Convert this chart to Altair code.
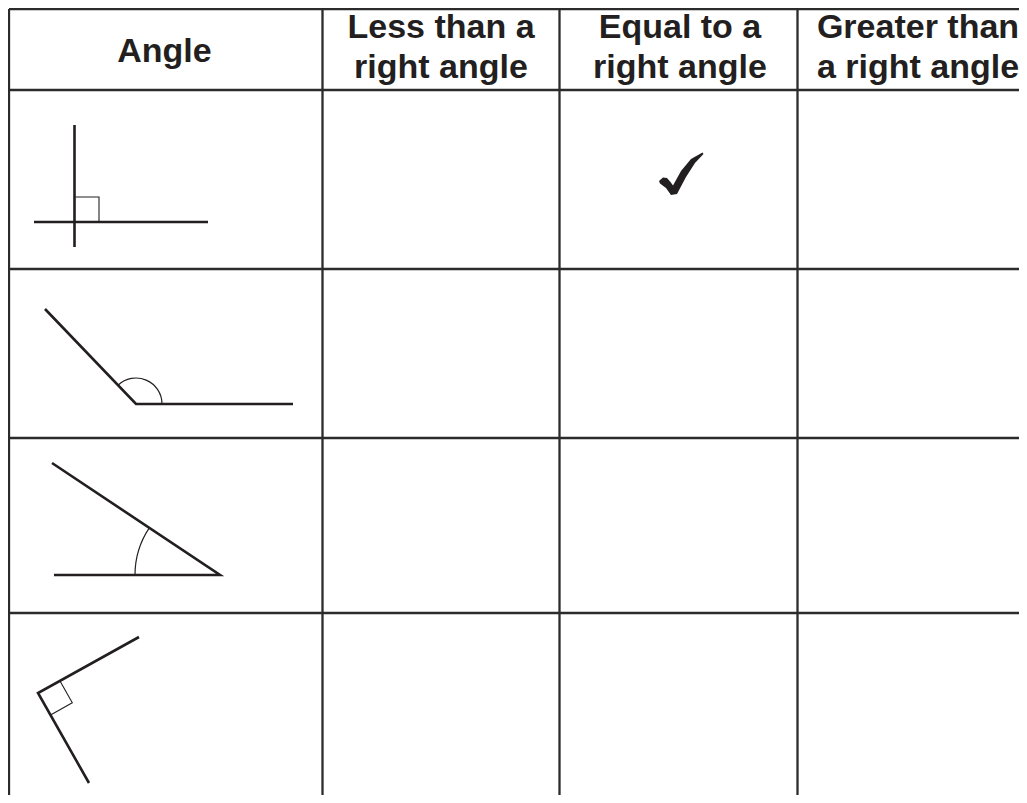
import altair as alt
import pandas as pd

# ---- table grid (page pixel coordinates) ----
ROW_LINES_Y = [9, 90, 269, 438, 613]
COL_LINES_X = [9, 322.5, 559.5, 797.5]
GRID_LEFT, GRID_RIGHT = 9, 1019
GRID_TOP, GRID_BOTTOM = 9, 795

# ---- header ----
HEADERS = ["Angle", "Less than a\nright angle", "Equal to a\nright angle", "Greater than\na right angle"]
HEADER_X = [164.5, 441, 680, 918]
HEADER_Y = [62, 38, 38, 38]

# ---- angle drawings (polylines) ----
ANGLE_SEG = ["r1v", "r1v", "r1h", "r1h", "r2", "r2", "r2", "r3", "r3", "r3", "r4", "r4", "r4"]
ANGLE_ORD = [0, 1, 0, 1, 0, 1, 2, 0, 1, 2, 0, 1, 2]
ANGLE_X = [74.5, 74.5, 34, 208, 45, 136, 293, 52, 220, 54, 139, 38, 89]
ANGLE_Y = [125, 247, 222, 222, 309, 404, 404, 463, 575, 575, 637, 693, 783]

# right-angle squares
SQ_SEG = ["s1", "s1", "s1", "s4", "s4", "s4"]
SQ_ORD = [0, 1, 2, 0, 1, 2]
SQ_X = [75, 99, 99, 60, 72.3, 50.5]
SQ_Y = [197, 197, 222, 681, 702.7, 715]

# angle arcs (centre, radius, start/end angle in radians, clockwise from 12 o'clock)
ARC_CX = [136, 220]
ARC_CY = [404, 575]
ARC_R = [26, 85]
ARC_T1 = [5.519, 4.712]
ARC_T2 = [7.854, 5.301]

# tick mark
TICK_X = [682]
TICK_Y = [174]
TICK_PATH = ("M -1.045 0.318 L -0.864 0.159 L -0.682 0.182 L -0.523 0.364 L -0.409 0.523 "
             "L -0.045 -0.136 L 0.409 -0.682 L 0.932 -0.977 L 0.977 -0.909 L 0.591 -0.5 "
             "L 0.182 0.136 L -0.227 0.909 L -0.5 0.955 L -0.727 0.636 L -1.0 0.432 Z")

INK = "#231f20"
GRID_INK = "#2b2b2b"

xs = alt.Scale(domain=[8, 1019], nice=False, zero=False)
ys = alt.Scale(domain=[8, 795], nice=False, zero=False, reverse=True)

# grid segments
gx, gy, gx2, gy2 = [], [], [], []
for y in ROW_LINES_Y:
    gx.append(GRID_LEFT); gx2.append(GRID_RIGHT); gy.append(y); gy2.append(y)
for x in COL_LINES_X:
    gx.append(x); gx2.append(x); gy.append(GRID_TOP); gy2.append(GRID_BOTTOM)
grid_df = pd.DataFrame({"x": gx, "y": gy, "x2": gx2, "y2": gy2})

grid = alt.Chart(grid_df).mark_rule(color=GRID_INK, strokeWidth=2.3).encode(
    x=alt.X("x:Q", scale=xs, axis=None),
    y=alt.Y("y:Q", scale=ys, axis=None),
    x2="x2:Q",
    y2="y2:Q",
)

header_df = pd.DataFrame({"t": HEADERS, "x": HEADER_X, "y": HEADER_Y})
header = alt.Chart(header_df).mark_text(
    font="Liberation Sans", fontWeight="bold", fontSize=34, color=INK,
    align="center", baseline="alphabetic", lineBreak="\n", lineHeight=40,
).encode(
    x=alt.X("x:Q", scale=xs, axis=None),
    y=alt.Y("y:Q", scale=ys, axis=None),
    text="t:N",
)

angle_df = pd.DataFrame({"seg": ANGLE_SEG, "o": ANGLE_ORD, "x": ANGLE_X, "y": ANGLE_Y})
angles = alt.Chart(angle_df).mark_line(
    color=INK, strokeWidth=2.6, strokeJoin="miter", strokeCap="butt"
).encode(
    x=alt.X("x:Q", scale=xs, axis=None),
    y=alt.Y("y:Q", scale=ys, axis=None),
    detail="seg:N",
    order="o:Q",
)

sq_df = pd.DataFrame({"seg": SQ_SEG, "o": SQ_ORD, "x": SQ_X, "y": SQ_Y})
squares = alt.Chart(sq_df).mark_line(
    color=INK, strokeWidth=1.1, strokeJoin="miter", strokeCap="butt"
).encode(
    x=alt.X("x:Q", scale=xs, axis=None),
    y=alt.Y("y:Q", scale=ys, axis=None),
    detail="seg:N",
    order="o:Q",
)

arc_df = pd.DataFrame({
    "cx": ARC_CX, "cy": ARC_CY,
    "ro": [r + 0.6 for r in ARC_R], "ri": [r - 0.6 for r in ARC_R],
    "t1": ARC_T1, "t2": ARC_T2,
})
arcs = alt.Chart(arc_df).mark_arc(color=INK).encode(
    x=alt.X("cx:Q", scale=xs, axis=None),
    y=alt.Y("cy:Q", scale=ys, axis=None),
    theta=alt.Theta("t1:Q", scale=None, stack=False),
    theta2="t2:Q",
    radius=alt.Radius("ro:Q", scale=None),
    radius2="ri:Q",
)

tick_df = pd.DataFrame({"x": TICK_X, "y": TICK_Y})
tick = alt.Chart(tick_df).mark_point(
    shape=TICK_PATH, size=1936, filled=True, color=INK, opacity=1, strokeWidth=0
).encode(
    x=alt.X("x:Q", scale=xs, axis=None),
    y=alt.Y("y:Q", scale=ys, axis=None),
)

chart = alt.layer(grid, header, angles, squares, arcs, tick).properties(
    width=1011, height=787,
    autosize=alt.AutoSizeParams(type="none"),
    padding=0,
    background="white",
).configure_view(strokeWidth=0)

chart.save("out.html", embed_options={"renderer": "svg", "actions": False})
